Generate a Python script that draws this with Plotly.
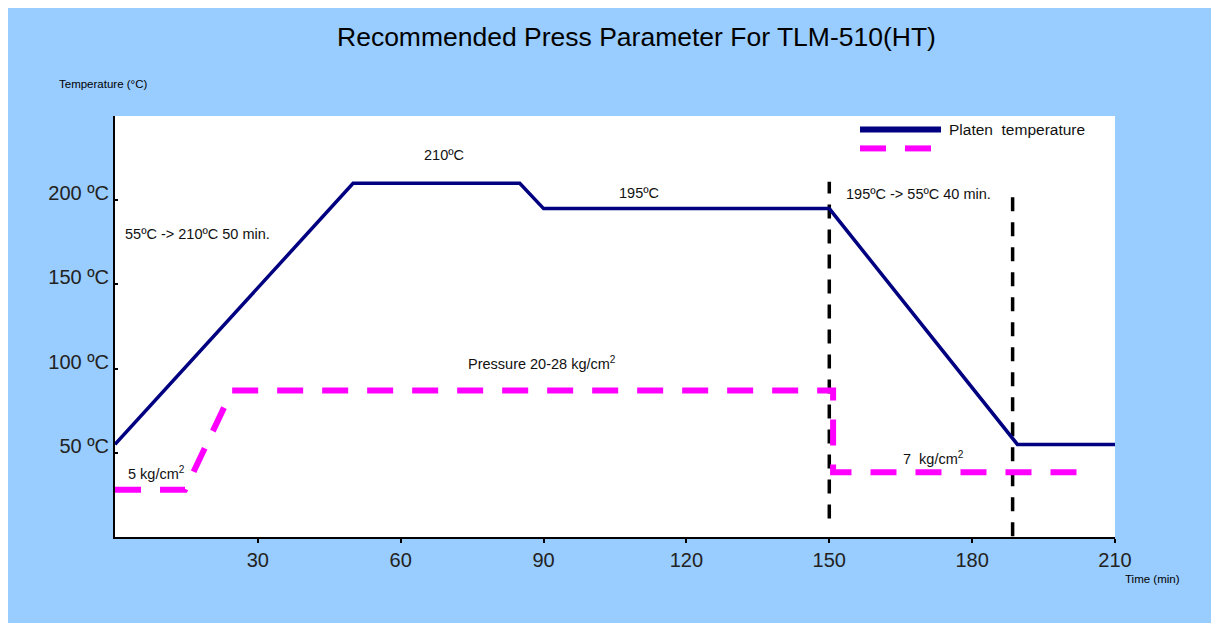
import plotly.graph_objects as go

# ---- data ----
platen_time = [0, 50, 85, 90, 150, 189.5, 210]
platen_temp = [55, 210, 210, 195, 195, 55, 55]

pressure_time = [0, 14.7, 24.6, 150.8, 150.8, 204]
pressure_level = [28, 28, 87, 87, 38.5, 38.5]

marker_time = [150, 188.5]
marker_top = [211, 203.5]
marker_bottom = [11, 0.5]

x_ticks = [30, 60, 90, 120, 150, 180, 210]
y_ticks = [50, 100, 150, 200]
y_tick_labels = ["50 \u00baC", "100 \u00baC", "150 \u00baC", "200 \u00baC"]

annotations_text = [
    ("210\u00baC", 69, 227, "center"),
    ("195\u00baC", 110, 204, "center"),
    ("55\u00baC -> 210\u00baC 50 min.", 1.7, 180, "left"),
    ("195\u00baC -> 55\u00baC 40 min.", 153, 203.5, "left"),
    ("Pressure 20-28 kg/cm<sup>2</sup>", 73.7, 103.5, "left"),
    ("5 kg/cm<sup>2</sup>", 2.3, 38, "left"),
    ("7  kg/cm<sup>2</sup>", 165, 47, "left"),
]

FONT = "Liberation Sans, Arial, sans-serif"

fig = go.Figure()

for t, top, bot in zip(marker_time, marker_top, marker_bottom):
    fig.add_trace(go.Scatter(x=[t, t], y=[bot, top], mode="lines",
                             line=dict(color="black", width=3.5, dash="14px,11px"),
                             showlegend=False, hoverinfo="skip"))

fig.add_trace(go.Scatter(x=pressure_time, y=pressure_level, mode="lines",
                         line=dict(color="#FF00FF", width=6, dash="26px,19px"),
                         showlegend=False))

fig.add_trace(go.Scatter(x=platen_time, y=platen_temp, mode="lines",
                         name="Platen temperature",
                         line=dict(color="#000080", width=3.5),
                         showlegend=False))

anns = []
for text, x, y, anchor in annotations_text:
    anns.append(dict(x=x, y=y, xref="x", yref="y", text=text, showarrow=False,
                     xanchor=anchor, yanchor="middle",
                     font=dict(family=FONT, size=14.5, color="#111111")))

# titles / axis captions
anns.append(dict(x=0.521, xref="paper", y=1.1876, yref="paper", yanchor="middle",
                 xanchor="center",
                 text="Recommended Press Parameter For TLM-510(HT)",
                 showarrow=False, font=dict(family=FONT, size=26.5, color="black")))
anns.append(dict(x=-0.058, xref="paper", y=1.076, yref="paper", xanchor="left",
                 yanchor="middle", text="Temperature (\u00b0C)", showarrow=False,
                 font=dict(family=FONT, size=11.5, color="black")))
anns.append(dict(x=1.008, xref="paper", y=-0.1, yref="paper", xanchor="left",
                 yanchor="middle", text="Time (min)", showarrow=False,
                 font=dict(family=FONT, size=11.5, color="black")))
# legend label
anns.append(dict(x=0.832, xref="paper", y=0.968, yref="paper", xanchor="left",
                 yanchor="middle", text="Platen  temperature", showarrow=False,
                 font=dict(family=FONT, size=15.5, color="#111111")))

shapes = [
    # legend samples
    dict(type="line", xref="paper", yref="paper", x0=0.745, x1=0.826, y0=0.968, y1=0.968,
         line=dict(color="#000080", width=6)),
    dict(type="line", xref="paper", yref="paper", x0=0.745, x1=0.771, y0=0.923, y1=0.923,
         line=dict(color="#FF00FF", width=6)),
    dict(type="line", xref="paper", yref="paper", x0=0.790, x1=0.816, y0=0.923, y1=0.923,
         line=dict(color="#FF00FF", width=6)),
]

fig.update_layout(
    width=1215, height=619,
    margin=dict(l=107, r=108, t=108, b=90),
    paper_bgcolor="#99CCFF",
    plot_bgcolor="white",
    annotations=anns,
    shapes=shapes,
    showlegend=False,
    font=dict(family=FONT, color="#222222"),
)

fig.update_xaxes(range=[0, 210], tickvals=x_ticks, ticktext=[str(v) for v in x_ticks],
                 showgrid=False, zeroline=False, showline=True, linecolor="black",
                 linewidth=2, ticks="outside", ticklen=4, tickwidth=2, tickcolor="black",
                 tickfont=dict(family=FONT, size=20, color="#222222"))
fig.update_yaxes(range=[0, 250], tickvals=y_ticks, ticktext=y_tick_labels,
                 showgrid=False, zeroline=False, showline=True, linecolor="black",
                 linewidth=2, ticks="inside", ticklen=3, tickwidth=2, tickcolor="black",
                 ticklabelshift=-7, ticklabelstandoff=0,
                 tickfont=dict(family=FONT, size=20, color="#222222"))

fig.write_html("out.html")
